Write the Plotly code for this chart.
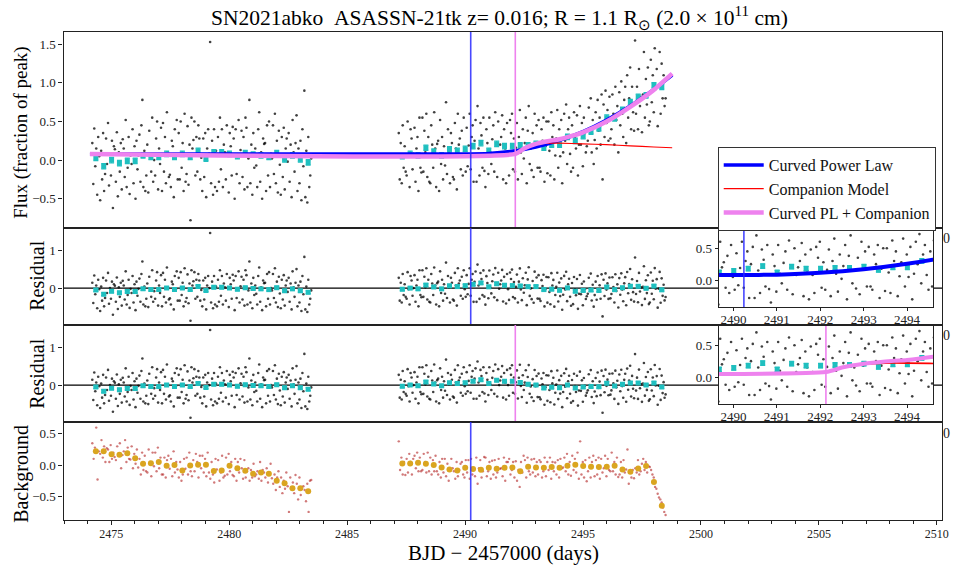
import numpy as np
import plotly.graph_objects as go

# ---------------- data ----------------
T_PL = 2490.24      # explosion epoch, curved power law
T_COMP = 2492.13    # explosion epoch, power law + companion

# 1/3-day binned flux (fraction of peak)
bin1_t0, bin2_t0 = 2474.35, 2487.34
flux_bin1 = [0.03, -0.08, 0.00, -0.04, -0.01, -0.01, 0.06, 0.04, 0.04, 0.08, 0.04, 0.08, 0.04, 0.12,
             0.02, 0.10, 0.10, 0.08, 0.05, 0.09, 0.07, 0.06, 0.04, 0.09, 0.01, 0.06, 0.01, -0.03]
flux_bin2 = [0.05, 0.08, 0.06, 0.16, 0.11, 0.06, 0.14, 0.12, 0.145, 0.18, 0.22, 0.12, 0.21, 0.18,
             0.18, 0.19, 0.19, 0.21, 0.16, 0.20, 0.20, 0.30, 0.25, 0.31, 0.37, 0.41, 0.55, 0.54,
             0.65, 0.75, 0.82, 0.84, 0.97, 0.95]
flux_bin_err = 0.035

# binned background
bg_bin1 = [0.22, 0.22, 0.175, 0.165, 0.19, 0.11, 0.02, 0.03, 0.05, -0.01, 0.0, -0.085, -0.005, 0.005,
           0.005, -0.095, -0.085, -0.01, -0.05, -0.09, -0.14, -0.12, -0.14, -0.25, -0.29, -0.37, -0.37, -0.42]
bg_bin2 = [0.027, 0.027, 0.037, 0.021, 0.0, -0.037, -0.069, -0.085, -0.043, -0.064, -0.074, -0.043,
           -0.058, -0.043, -0.037, -0.10, -0.027, -0.037, -0.043, -0.032, -0.043, -0.011, 0.005,
           -0.016, -0.027, -0.032, -0.027, -0.011, -0.069, -0.106, -0.053, -0.016, -0.27, -0.65]

# raw cadence flux, in units of 0.01
flux_raw1 = [
    22, -31, 41, -8, 15, -45, 30, 5, -52, 12, -25, 35, -40, -18, 28, -5,
    48, -33, 8, -20, 25, -62, 18, 14, -28, 36, -47, 10, -15, 22, -38, 27,
    15, -22, 52, -35, -10, 30, -44, 6, -5, 40, -30, 18, -50, 25, -12, 6,
    33, -28, 45, 78, -35, 12, -40, -20, 20, -42, 38, 5, -15, 55, -28, 0,
    -20, 28, 50, -38, 15, -5, 42, -40, 48, -15, 30, -30, 62, 10, -22, -19,
    -35, 25, 18, -48, 40, 5, 52, -25, 35, -25, 50, -10, 22, -40, 60, -28,
    -18, 44, -32, 20, -78, 55, 15, 26, 50, -20, 30, -15, 45, 28, -25, 3,
    -40, 28, -22, 35, -48, 15, 40, 8, 153, -30, 25, -45, 40, -35, 12, -40,
    30, -28, 55, -12, 40, -35, 20, 10, -25, 45, 10, -42, 35, 18, -20, 43,
    28, -50, 40, -18, 5, 52, -30, 13, 38, -22, 30, -38, 55, 42, -35, 2,
    78, -30, 20, -45, 35, -10, 15, -7, -35, 40, 62, -28, 10, -50, 28, 21,
    22, -40, 45, -20, 50, -35, 8, 2, 45, -18, 60, -30, 25, -42, 38, -6,
    -45, 30, -22, 42, -38, 15, 28, -2, 35, -28, 20, -48, 52, 10, -15, 22,
    58, -40, 15, -30, 25, -52, 40, -8, 90, -48, 12, -55, 30, -35, -20, 2,
]
flux_raw2 = [
    35, -25, 22, -30, 45, -10, 18, -15, -20, 50, 5, -35, 40, 28, -12, 8,
    42, -28, 15, 30, -40, 55, -10, -16, 55, -15, 38, 10, 60, -22, 30, -28,
    -30, 45, 20, -10, 62, 15, -35, 21, 25, -40, 52, -5, 30, -25, 18, -7,
    75, -18, 40, 10, -30, 35, 22, -22, -25, 48, 15, -38, 60, 20, 28, -12,
    38, -20, 55, 5, -15, 42, -8, 19, 60, -12, 30, 45, -28, 25, 52, -28,
    70, 15, -20, 48, 32, -10, 55, -14, -35, 40, 22, -18, 55, 10, -5, 27,
    45, -15, 62, 20, -22, 50, 8, 20, 30, 58, -25, 40, 15, -30, 48, 8,
    -20, 52, 35, 60, -12, 28, -15, 16, 48, -25, 30, 65, 10, -18, 40, 2,
    22, 55, -30, 38, 70, -5, 15, -13, 35, -22, 60, 18, 45, -10, 52, -10,
    -15, 40, 25, 55, -28, 18, 50, -17, 50, 12, -20, 62, 30, 45, -25, 6,
    28, 65, -10, 40, 5, 52, -30, 10, 60, 25, 72, -5, 40, 55, 8, -15,
    45, -10, 62, 30, 15, 58, -20, 20, 70, 20, 48, -8, 55, 35, 10, 18,
    25, 68, 40, 80, 10, 52, -5, 26, 62, 15, 78, 38, 55, 20, 85, -25,
    72, 30, 90, 48, 65, 25, 82, 28, 40, 85, 60, 20, 95, 52, 70, 10,
    88, 45, 102, 60, 30, 78, 95, 22, 110, 55, 80, 120, 40, 95, 62, 38,
    155, 60, 95, 40, 118, 70, 82, 36, 85, 140, 55, 105, 72, 120, 45, 50,
    130, 75, 110, 62, 145, 92, 118, 44, 95, 140, 60, 125, 80, 110, 70, 80,
]

# raw cadence background, in units of 0.01
bg_raw1 = [
    35, 10, 28, 60, -23, 22, 18, 40, 12, 30, 5, 27, 25, 5, 32, 10, 20, 13,
    8, 30, 15, 35, -5, 16, 22, 40, 5, 28, 10, 9, 30, -5, 18, 2, 25, -4,
    10, -15, 20, -8, 15, -10, -12, 25, 5, -18, 20, -2, 20, -10, 28, -5, 12, -15,
    -15, 12, -20, 8, 15, -6, 10, -18, 22, -12, 5, -7, -20, 5, -25, -15, 10, -6,
    12, -15, 20, -10, -18, 8, -10, 18, 5, -20, 15, -5, 15, -12, 10, -18, 20, -12,
    -22, 5, -15, -28, 10, -7, 8, -25, -12, 15, -20, -17, 12, -15, 18, -10, 5, -16,
    -18, 10, -25, 5, -12, 10, -5, -22, 8, -20, -10, -5, -25, -8, -20, 2, -18, -15,
    -10, -22, 5, -25, -8, -12, -20, -5, -28, -12, 2, -21, -30, -15, -40, -20, -10, -35,
    -20, -45, -25, -38, -12, -34, -75, -20, -38, -28, -45, -16, -30, -55, -20, -48, -35, -34,
    -40, -58, -30, -75, -25, -24,
]
bg_raw2 = [
    38, -8, 12, -15, 5, -16, 10, -12, 18, 5, -15, 10, 15, -5, 20, -10, 12, -10,
    -8, 18, 5, -12, 20, -10, 12, -15, 8, -10, 15, -10, -15, 5, -20, 10, -12, 10,
    -18, 2, -25, -5, 10, -5, -10, -22, 5, -18, -8, 2, 5, -15, -20, 8, -12, 8,
    -22, 10, -15, -5, -18, 12, -30, -5, 8, -20, -10, 13, 12, -18, -10, 5, -22, 7,
    -15, 8, -20, -12, 10, -6, -5, -18, 12, -25, 5, 5, 10, -15, -8, 5, -20, 6,
    -25, -8, -35, 5, -12, 15, 8, -20, 12, -10, -15, 9, -12, 10, -18, 5, -15, 8,
    5, -20, -10, 12, -18, 5, -8, 12, -22, 5, -10, 4, -15, 8, -20, 10, -5, -4,
    12, -10, 18, -15, 5, -17, 15, -8, 10, -12, 20, -22, 38, -15, 5, -20, 8, -26,
    -10, 12, -20, 5, 15, -18, 8, -15, 12, -22, 10, -12, -5, 15, -18, 10, -8, -10,
    20, -10, 5, -15, 12, -19, -15, 5, -20, 8, -12, -7, 25, -30, -10, -20, -8, -21,
    -5, -12, 8, -15, -10, 2, 10, -8, 5, -12, -2, -3, -8, -15, -20, -35, -38, -46,
    -52, -55, -60, -68, -75, -80,
]

# model light curves
pl_t = [2474.1, 2490.24, 2491.0, 2492.0, 2493.0, 2494.0, 2495.0, 2496.0, 2497.0, 2498.0, 2498.78]
pl_v = [0.08, 0.08, 0.086, 0.114, 0.17, 0.256, 0.37, 0.52, 0.70, 0.915, 1.10]
comp_t = [2474.1, 2492.13, 2492.5, 2493.0, 2493.5, 2494.0, 2495.0, 2496.0, 2497.0, 2498.0, 2498.78]
comp_v = [0.08, 0.08, 0.15, 0.20, 0.22, 0.22, 0.21, 0.20, 0.185, 0.17, 0.16]
tot_t = [2474.1, 2492.13, 2492.5, 2493.0, 2493.5, 2494.0, 2494.6, 2495.0, 2496.0, 2497.0, 2498.0, 2498.78]
tot_v = [0.08, 0.08, 0.15, 0.21, 0.245, 0.27, 0.32, 0.36, 0.50, 0.69, 0.91, 1.12]

# ---------------- derived arrays ----------------
t_raw1 = np.linspace(2474.20, 2483.48, len(flux_raw1))
t_raw2 = np.linspace(2487.19, 2498.50, len(flux_raw2))
tb_raw1 = np.linspace(2474.20, 2483.48, len(bg_raw1))
tb_raw2 = np.linspace(2487.19, 2498.50, len(bg_raw2))
f_raw1 = np.array(flux_raw1) / 100.0
f_raw2 = np.array(flux_raw2) / 100.0
b_raw1 = np.array(bg_raw1) / 100.0
b_raw2 = np.array(bg_raw2) / 100.0

t_bin1 = bin1_t0 + np.arange(len(flux_bin1)) / 3.0
t_bin2 = bin2_t0 + np.arange(len(flux_bin2)) / 3.0
tb_bin1 = bin1_t0 + np.arange(len(bg_bin1)) / 3.0
tb_bin2 = bin2_t0 + np.arange(len(bg_bin2)) / 3.0

t_raw = np.concatenate([t_raw1, [np.nan], t_raw2])
f_raw = np.concatenate([f_raw1, [np.nan], f_raw2])
t_bin = np.concatenate([t_bin1, t_bin2])
f_bin = np.concatenate([flux_bin1, flux_bin2])


def model(t, mt, mv):
    return np.interp(t, mt, mv)


res_pl_raw = f_raw - model(t_raw, pl_t, pl_v)
res_tot_raw = f_raw - model(t_raw, tot_t, tot_v)
res_pl_bin = f_bin - model(t_bin, pl_t, pl_v)
res_tot_bin = f_bin - model(t_bin, tot_t, tot_v)
err_bin = np.full(len(t_bin), flux_bin_err)

# ---------------- styling ----------------
SERIF = "Liberation Serif, Times New Roman, serif"
BLACKDOT = "rgba(0,0,0,0.75)"
CYAN = "#1fbfbf"
ORANGE = "#daa520"
REDDOT = "rgba(178,34,34,0.6)"
VLINE_BLUE = "rgba(40,40,255,0.85)"
VIOLET = "violet"
FRAME = "#222222"

W, H = 958, 568
px_x = lambda p: p / W
px_y = lambda p: 1 - p / H

XR = [2472.98, 2510.22]
YR = {1: [-0.88, 1.66], 2: [-0.97, 1.58], 3: [-0.97, 1.58], 4: [-0.88, 0.69]}
INS_XR = [2489.66, 2494.6]
INS_YR = [-0.42, 0.8]

fig = go.Figure()


def ax(n):
    return ("x" if n == 1 else f"x{n}"), ("y" if n == 1 else f"y{n}")


def dots(n, x, y, color=BLACKDOT, size=2.6):
    xa, ya = ax(n)
    fig.add_trace(go.Scatter(x=x, y=y, mode="markers", xaxis=xa, yaxis=ya, showlegend=False,
                             marker=dict(size=size, color=color, line=dict(width=0)),
                             hoverinfo="skip"))


def bins(n, x, y, err):
    xa, ya = ax(n)
    fig.add_trace(go.Scatter(x=x, y=y, mode="markers", xaxis=xa, yaxis=ya, showlegend=False,
                             marker=dict(size=5, color=CYAN, symbol="square", line=dict(width=0)),
                             error_y=dict(type="data", array=err, color=CYAN, thickness=1.3, width=2.5)))


def curve(n, x, y, color, width, name=None, legend=False):
    xa, ya = ax(n)
    fig.add_trace(go.Scatter(x=x, y=y, mode="lines", xaxis=xa, yaxis=ya, name=name,
                             showlegend=legend, line=dict(color=color, width=width, shape="spline",
                                                          smoothing=0.5)))


def vline(n, t, color, yr):
    xa, ya = ax(n)
    fig.add_trace(go.Scatter(x=[t, t], y=yr, mode="lines", xaxis=xa, yaxis=ya, showlegend=False,
                             line=dict(color=color, width=1.6), hoverinfo="skip"))


def hline(n, yv):
    xa, ya = ax(n)
    fig.add_trace(go.Scatter(x=XR, y=[yv, yv], mode="lines", xaxis=xa, yaxis=ya, showlegend=False,
                             line=dict(color="black", width=1.2), hoverinfo="skip"))


# panel 1: flux with models
dots(1, t_raw, f_raw)
bins(1, t_bin, f_bin, err_bin)
curve(1, pl_t, pl_v, "blue", 3.5, "Curved Power Law", True)
curve(1, comp_t, comp_v, "red", 1.2, "Companion Model", True)
curve(1, tot_t, tot_v, VIOLET, 4.5, "Curved PL + Companion", True)
vline(1, T_PL, VLINE_BLUE, YR[1])
vline(1, T_COMP, VIOLET, YR[1])

# panel 2: residual from curved power law
hline(2, 0)
dots(2, t_raw, res_pl_raw)
bins(2, t_bin, res_pl_bin, err_bin)
vline(2, T_PL, VLINE_BLUE, YR[2])

# panel 3: residual from power law + companion
hline(3, 0)
dots(3, t_raw, res_tot_raw)
bins(3, t_bin, res_tot_bin, err_bin)
vline(3, T_COMP, VIOLET, YR[3])

# panel 4: background
dots(4, np.concatenate([tb_raw1, [np.nan], tb_raw2]),
     np.concatenate([b_raw1, [np.nan], b_raw2]), color=REDDOT, size=2.4)
xa, ya = ax(4)
fig.add_trace(go.Scatter(x=np.concatenate([tb_bin1, tb_bin2]), y=np.concatenate([bg_bin1, bg_bin2]),
                         mode="markers", xaxis=xa, yaxis=ya, showlegend=False,
                         marker=dict(size=6, color=ORANGE, line=dict(width=0))))
vline(4, T_PL, VLINE_BLUE, YR[4])

# inset 5: zoom on rise, curved power law
dots(5, t_raw2, f_raw2)
bins(5, t_bin2, np.array(flux_bin2), np.full(len(t_bin2), flux_bin_err))
curve(5, pl_t, pl_v, "blue", 4)
vline(5, T_PL, VLINE_BLUE, INS_YR)

# inset 6: zoom on rise, power law + companion
dots(6, t_raw2, f_raw2)
bins(6, t_bin2, np.array(flux_bin2), np.full(len(t_bin2), flux_bin_err))
curve(6, comp_t, comp_v, "red", 1.6)
curve(6, tot_t, tot_v, VIOLET, 4)
vline(6, T_COMP, VIOLET, INS_YR)

# ---------------- axes ----------------
X0, X1 = px_x(64), px_x(949)
panel_px = {1: (32, 228), 2: (228, 325), 3: (325, 422), 4: (422, 520)}
tickfont = dict(family=SERIF, size=13, color="#222")
xtickfont = dict(family=SERIF, size=12, color="#222")

layout = dict(
    width=W, height=H, autosize=False,
    margin=dict(l=0, r=0, t=0, b=0),
    paper_bgcolor="white", plot_bgcolor="white",
    font=dict(family=SERIF, color="black"),
    showlegend=True,
    legend=dict(x=px_x(723), y=px_y(147), xanchor="left", yanchor="top",
                bgcolor="white", bordercolor="#333", borderwidth=1,
                font=dict(family=SERIF, size=16, color="#111"),
                tracegroupgap=0, itemwidth=40),
)

for n in range(1, 5):
    xk = "xaxis" if n == 1 else f"xaxis{n}"
    yk = "yaxis" if n == 1 else f"yaxis{n}"
    top, bot = panel_px[n]
    xa, ya = ax(n)
    xd = dict(domain=[X0, X1], anchor=ya, range=XR, showgrid=False, zeroline=False,
              showline=True, mirror=True, linecolor=FRAME, linewidth=1.2)
    if n == 4:
        xd.update(ticks="outside", ticklen=4, tickcolor=FRAME, tick0=2475, dtick=5,
                  tickfont=xtickfont, showticklabels=True, ticklabelstandoff=-2,
                  minor=dict(dtick=1, ticks="outside", ticklen=2.5, tickcolor=FRAME))
    else:
        xd.update(showticklabels=False, ticks="")
    if n > 1:
        xd["matches"] = "x"
    layout[xk] = xd
    yd = dict(domain=[px_y(bot), px_y(top)], anchor=xa, range=YR[n], showgrid=False, zeroline=False,
              showline=True, mirror=True, linecolor=FRAME, linewidth=1.2,
              ticks="outside", ticklen=4, tickcolor=FRAME, tickfont=tickfont)
    if n == 1:
        yd.update(tickvals=[-0.5, 0, 0.5, 1.0, 1.5], tickformat=".1f")
    elif n in (2, 3):
        yd.update(tickvals=[0, 1], tickformat="d")
    else:
        yd.update(tickvals=[-0.5, 0, 0.5], tickformat=".1f")
    layout[yk] = yd

inset_px = {5: (229, 307), 6: (326, 404)}
for n, (top, bot) in inset_px.items():
    layout[f"xaxis{n}"] = dict(domain=[px_x(724), px_x(940)], anchor=f"y{n}", range=INS_XR,
                               showgrid=False, zeroline=False, showline=True, mirror=True,
                               linecolor=FRAME, linewidth=1.2, ticks="outside", ticklen=3,
                               tickcolor=FRAME, tick0=2490, dtick=1, tickfont=tickfont,
                               ticklabelstandoff=-3)
    layout[f"yaxis{n}"] = dict(domain=[px_y(bot), px_y(top)], anchor=f"x{n}", range=INS_YR,
                               showgrid=False, zeroline=False, showline=True, mirror=True,
                               linecolor=FRAME, linewidth=1.2, ticks="outside", ticklen=3,
                               tickcolor=FRAME, tickvals=[0, 0.5], tickformat=".1f",
                               tickfont=tickfont)

fig.update_layout(**layout)

# white backing for the insets
for n in (5, 6):
    fig.add_shape(type="rect", xref=f"x{n}", yref=f"y{n}", x0=INS_XR[0], x1=INS_XR[1],
                  y0=INS_YR[0], y1=INS_YR[1], fillcolor="white", line=dict(width=0), layer="below")

# ---------------- text ----------------
ann = []
ann.append(dict(text="SN2021abko\u00a0\u00a0ASASSN-21tk z= 0.016; R = 1.1 R<sub>\u2299</sub> "
                     "(2.0 \u00d7 10<sup>11</sup> cm)",
                x=px_x(503), y=px_y(18), xref="paper", yref="paper", showarrow=False,
                xanchor="center", yanchor="middle",
                font=dict(family=SERIF, size=21.5, color="black")))
ann.append(dict(text="BJD \u2212 2457000 (days)", x=px_x(507), y=px_y(553), xref="paper", yref="paper",
                showarrow=False, xanchor="center", yanchor="middle",
                font=dict(family=SERIF, size=21, color="black")))
for txt, xp, yp, fs in [("Flux (fraction of peak)", 21, 132, 19), ("Residual", 37, 276, 20),
                        ("Residual", 37, 374, 20), ("Background", 21, 474, 20)]:
    ann.append(dict(text=txt, x=px_x(xp), y=px_y(yp), xref="paper", yref="paper", showarrow=False,
                    xanchor="center", yanchor="middle",
                    textangle=-90, font=dict(family=SERIF, size=fs, color="black")))
for yp in (238, 335, 433):
    ann.append(dict(text="0", x=px_x(948), y=px_y(yp), xref="paper", yref="paper", showarrow=False,
                    xanchor="left", yanchor="middle", font=dict(family=SERIF, size=14, color="#222")))
fig.update_layout(annotations=ann)

fig.write_html("out.html")
